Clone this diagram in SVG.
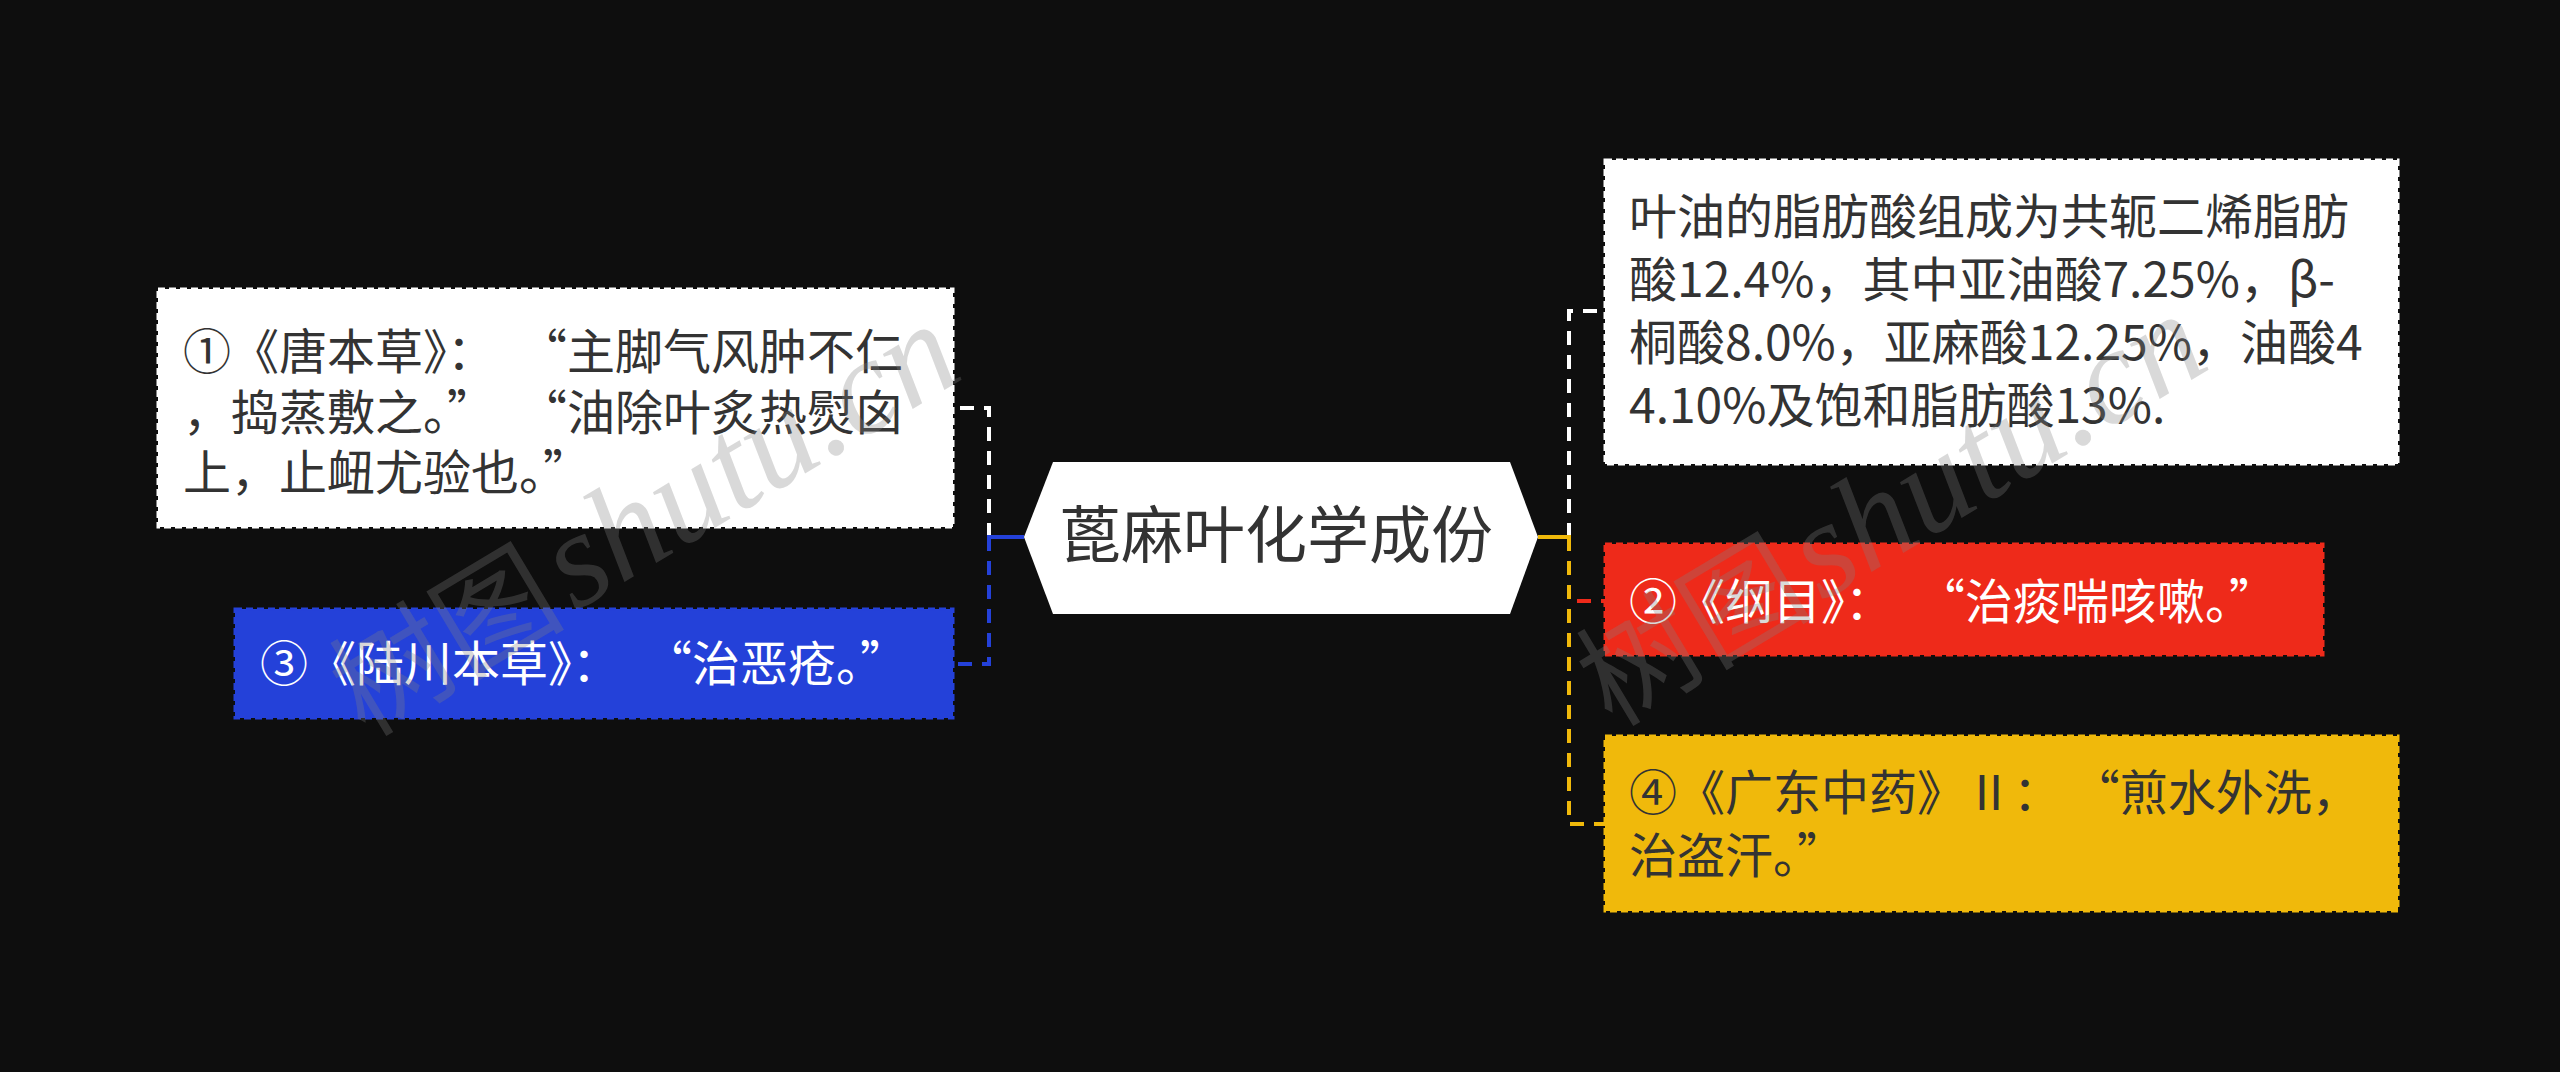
<svg xmlns="http://www.w3.org/2000/svg" width="2560" height="1072" viewBox="0 0 2560 1072">
<style>
text{font-family:"Noto Sans CJK SC","Noto Sans",sans-serif;}
.t{font-size:48px;}
.dark{fill:#333333;}
.light{fill:#ffffff;}
.box{stroke-width:3;stroke-dasharray:7 4;}
.conn{fill:none;stroke-width:4;stroke-dasharray:14 10;}
.solid{fill:none;stroke-width:4;}
.wm{font-family:"Liberation Serif",serif;font-style:italic;font-size:136px;fill:#808080;fill-opacity:0.3;}
.wmc{font-family:"Noto Sans CJK SC",sans-serif;font-size:118px;fill:#808080;fill-opacity:0.3;}
</style>
<rect x="0" y="0" width="2560" height="1072" fill="#0e0e0e"/>
<g id="connectors">
<path class="conn" stroke="#ffffff" d="M1569 537 V311 H1605"/>
<path class="conn" stroke="#ee2a1a" d="M1569 537 V601 H1605"/>
<path class="conn" stroke="#f0b90b" d="M1569 537 V824 H1605"/>
<path class="solid" stroke="#f0b90b" d="M1538 537 H1571"/>
<path class="conn" stroke="#ffffff" d="M989 537 V408 H953"/>
<path class="conn" stroke="#2441d9" d="M989 537 V664 H953"/>
<path class="solid" stroke="#2441d9" d="M1024 537 H987"/>
</g>
<g id="root">
<polygon points="1024,537 1053,462 1510,462 1538,537 1510,614 1053,614" fill="#ffffff"/>
<text x="1276" y="558" font-size="62" text-anchor="middle" class="dark">蓖麻叶化学成份</text>
</g>
<g id="node-1">
<rect class="box" x="158" y="289" width="795" height="238" fill="#ffffff" stroke="#ffffff"/>
<text class="t dark"><tspan x="183" y="369">①《唐本草》：&#8194;“主脚气风肿不仁</tspan><tspan x="183" y="430">，捣蒸敷之。”&#8194;“油除叶炙热熨囟</tspan><tspan x="183" y="490">上，止衄尤验也。”</tspan></text>
</g>
<g id="node-3">
<rect class="box" x="235" y="609" width="718" height="109" fill="#2441d9" stroke="#2441d9"/>
<text class="t light" x="260" y="681">③《陆川本草》：&#8194;“治恶疮。”</text>
</g>
<g id="node-r1">
<rect class="box" x="1605" y="160" width="793" height="304" fill="#ffffff" stroke="#ffffff"/>
<text class="t dark"><tspan x="1629" y="234">叶油的脂肪酸组成为共轭二烯脂肪</tspan><tspan x="1629" y="297">酸12.4%，其中亚油酸7.25%，β-</tspan><tspan x="1629" y="360">桐酸8.0%，亚麻酸12.25%，油酸4</tspan><tspan x="1629" y="423">4.10%及饱和脂肪酸13%.</tspan></text>
</g>
<g id="node-2">
<rect class="box" x="1605" y="544" width="718" height="111" fill="#ee2a1a" stroke="#ee2a1a"/>
<text class="t light" x="1629" y="619">②《纲目》：&#8194;“治痰喘咳嗽。”</text>
</g>
<g id="node-4">
<rect class="box" x="1605" y="736" width="793" height="175" fill="#f0b90b" stroke="#f0b90b"/>
<text class="t dark"><tspan x="1629" y="810">④《广东中药》Ⅱ： “煎水外洗，</tspan><tspan x="1629" y="873">治盗汗。”</tspan></text>
</g>
<g id="watermark">
<g transform="translate(365,738) rotate(-31)"><text class="wmc" x="0" y="0">树图</text><text class="wm" x="245" y="0">shutu.cn</text></g>
<g transform="translate(1612,728) rotate(-31)"><text class="wmc" x="0" y="0">树图</text><text class="wm" x="245" y="0">shutu.cn</text></g>
</g>
</svg>
